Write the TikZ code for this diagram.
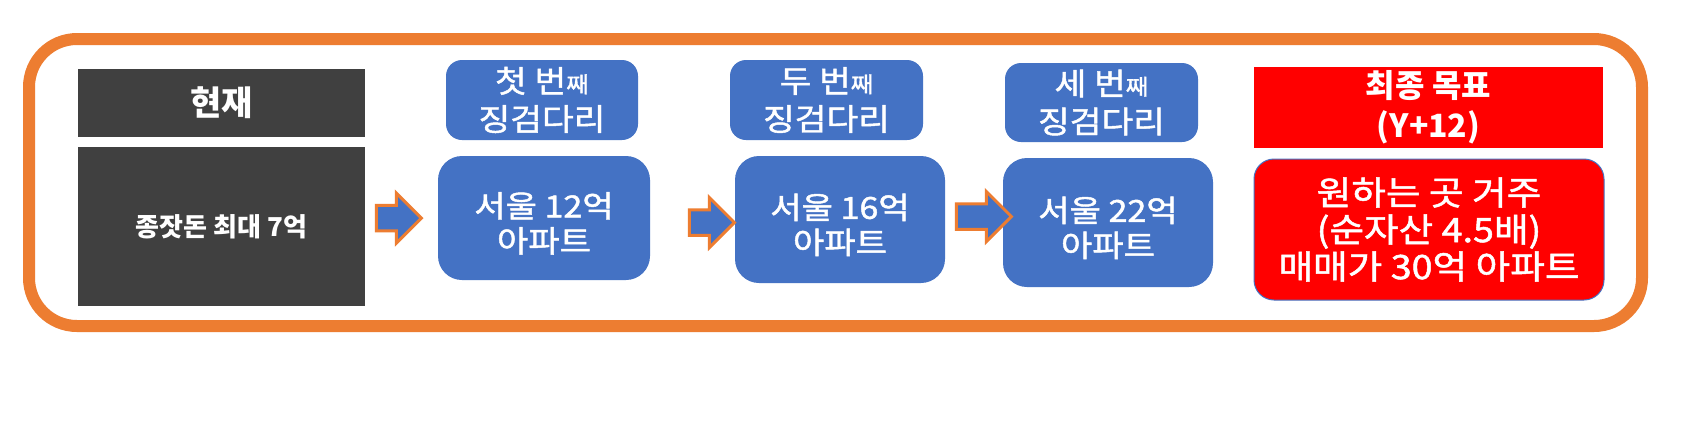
\documentclass[tikz,border=0pt]{standalone}
\usepackage{fontspec}
\setmainfont{Noto Sans CJK KR}
\newfontfamily\rgfont{Noto Sans CJK KR}[FakeStretch=1.12, FakeBold=1.5]
\usetikzlibrary{shapes.arrows}
\definecolor{dk}{HTML}{404040}
\definecolor{bl}{HTML}{4472C4}
\definecolor{org}{HTML}{ED7D31}
\definecolor{rd}{HTML}{FF0000}
\newcommand{\jjae}{{\fontsize{11pt}{11pt}\selectfont 째}}
\newcommand{\lowtop}{\rule{0pt}{18pt}}
\begin{document}
\begin{tikzpicture}[x=0.5pt,y=-0.5pt,
  sz/.style 2 args={minimum width=#1*0.5pt, minimum height=#2*0.5pt, inner sep=0pt, outer sep=0pt},
  darkbox/.style={fill=dk, text=white, align=center},
  bltitle/.style={fill=bl, text=white, align=center, rounded corners=8pt,
    font=\rgfont\fontsize{15.4pt}{19pt}\selectfont},
  blmain/.style={fill=bl, text=white, align=center, rounded corners=12pt,
    font=\rgfont\fontsize{15.2pt}{17.5pt}\selectfont},
  redtitle/.style={fill=rd, text=white, align=center,
    font=\bfseries\fontsize{16pt}{20pt}\selectfont},
  redmain/.style={fill=rd, draw=bl, line width=0.5pt, text=white, align=center, rounded corners=10pt,
    font=\rgfont\fontsize{16.8pt}{18.5pt}\selectfont},
  blockarrow/.style={single arrow, fill=bl, draw=org, line width=1.5pt,
    minimum height=#1*0.5pt, minimum width=50*0.5pt, inner sep=0pt, outer sep=0pt,
    text height=22*0.5pt, text depth=0pt, text width=0pt, single arrow head extend=6pt}
]
\useasboundingbox (0,0) rectangle (1694,425);
\fill[white] (0,0) rectangle (1694,425);
% outer frame
\draw[org, line width=6pt, rounded corners=24pt] (29,39) rectangle (1642,326);
% current
\node[darkbox, sz={287}{68}, font=\bfseries\fontsize{17pt}{20pt}\selectfont] (now) at (221.5,103) {현재};
\node[darkbox, sz={287}{159}, font=\bfseries\fontsize{13pt}{15pt}\selectfont] (seed) at (221.5,226.5) {종잣돈 최대 7억};
% steps
\node[bltitle, sz={192}{80}] (t1) at (542,100) {첫 번\jjae\\징검다리};
\node[blmain, sz={212}{124}] (m1) at (544,218) {\lowtop 서울 12억\\아파트};
\node[bltitle, sz={193}{80}] (t2) at (826.5,100) {두 번\jjae\\징검다리};
\node[blmain, sz={210}{127}] (m2) at (840,219.5) {\lowtop 서울 16억\\아파트};
\node[bltitle, sz={193}{79}] (t3) at (1101.5,102.5) {세 번\jjae\\징검다리};
\node[blmain, sz={210}{129}] (m3) at (1108,222.5) {\lowtop 서울 22억\\아파트};
% goal
\node[redtitle, sz={349}{81}] (goal) at (1428.5,107.5) {최종 목표\\(Y+12)};
\node[redmain, sz={350}{141}] (target) at (1429,229.5) {원하는 곳 거주\\(순자산 4.5배)\\매매가 30억 아파트};
% block arrows
\node[blockarrow=45] (a1) at (392.5,218) {};
\node[blockarrow=45] (a2) at (705.5,222.5) {};
\node[blockarrow=55] (a3) at (977.5,216.5) {};
\end{tikzpicture}
\end{document}
